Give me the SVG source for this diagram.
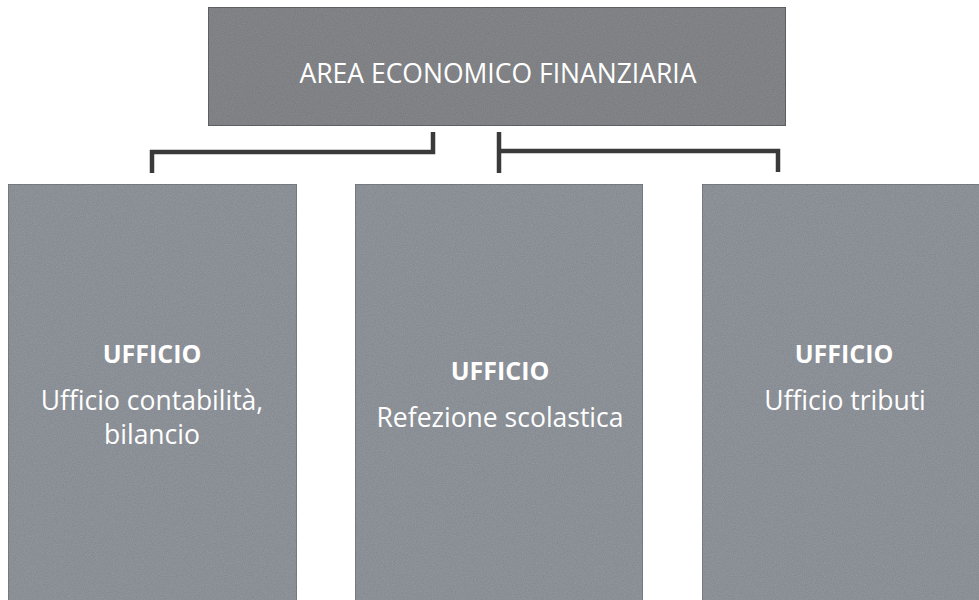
<svg xmlns="http://www.w3.org/2000/svg" width="979" height="600" viewBox="0 0 979 600">
<defs>
<filter id="grain" x="0" y="0" width="100%" height="100%">
<feTurbulence type="fractalNoise" baseFrequency="0.9" numOctaves="2" seed="3" result="n"/>
<feColorMatrix in="n" type="matrix" values="0 0 0 0 0  0 0 0 0 0  0 0 0 0 0  0 0 0 0.28 0" result="na"/>
<feComposite in="na" in2="SourceGraphic" operator="in" result="nc"/>
<feMerge><feMergeNode in="SourceGraphic"/><feMergeNode in="nc"/></feMerge>
</filter>
</defs>
<style>
.top{fill:#898b8f;stroke:#5a5c60;stroke-width:1.5}
.box{fill:#959aa1;stroke:#6a6d72;stroke-width:1}
.t{font-family:"Open Sans","Liberation Sans",sans-serif;fill:#ffffff;text-anchor:middle}
.b{font-weight:bold}
.c{fill:none;stroke:#3a3a3a;stroke-width:4.5}
</style>
<rect width="979" height="600" fill="#ffffff"/>
<g id="top-node">
<rect class="top" x="208" y="7" width="578" height="119" filter="url(#grain)"/>
<text class="t" x="498" y="83" font-size="26.5">AREA ECONOMICO FINANZIARIA</text>
</g>
<g id="connectors">
<polyline class="c" points="433,132 433,152 152,152 152,173"/>
<polyline class="c" points="499,132 499,173"/>
<polyline class="c" points="499,151 778,151 778,172"/>
</g>
<g id="node-contabilita">
<rect class="box" x="8" y="184" width="289" height="420" filter="url(#grain)"/>
<text class="t b" x="152" y="363" font-size="25">UFFICIO</text>
<text class="t" x="152" y="410" font-size="26.5">Ufficio contabilità,</text>
<text class="t" x="152" y="444" font-size="26.5">bilancio</text>
</g>
<g id="node-refezione">
<rect class="box" x="355" y="184" width="288" height="420" filter="url(#grain)"/>
<text class="t b" x="500" y="380" font-size="25">UFFICIO</text>
<text class="t" x="500" y="427" font-size="26.5">Refezione scolastica</text>
</g>
<g id="node-tributi">
<rect class="box" x="702" y="184" width="285" height="420" filter="url(#grain)"/>
<text class="t b" x="844" y="363" font-size="25">UFFICIO</text>
<text class="t" x="845" y="410" font-size="26.5">Ufficio tributi</text>
</g>
</svg>
